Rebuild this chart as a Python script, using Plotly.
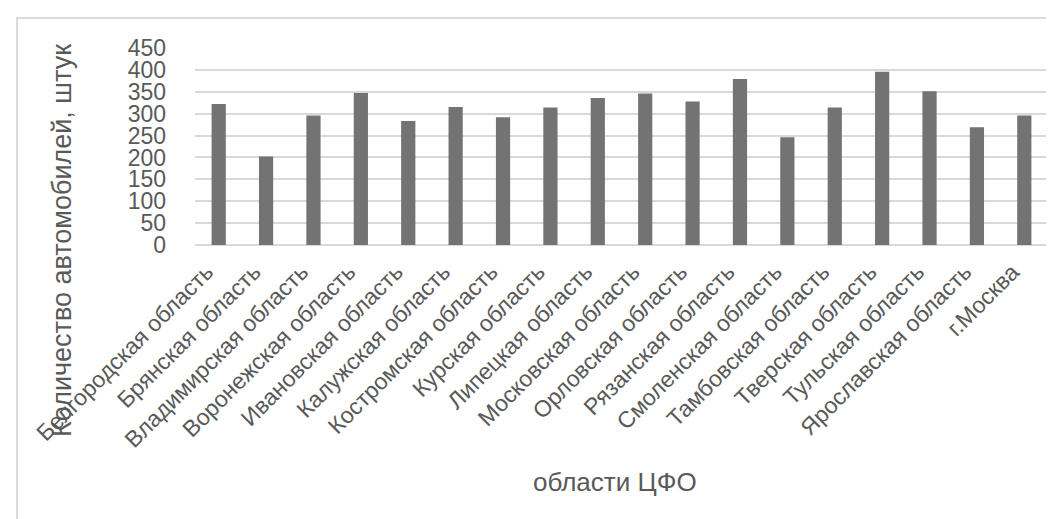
import plotly.graph_objects as go

regions = [
    "Белгородская область", "Брянская область", "Владимирская область",
    "Воронежская область", "Ивановская область", "Калужская область",
    "Костромская область", "Курская область", "Липецкая область",
    "Московская область", "Орловская область", "Рязанская область",
    "Смоленская область", "Тамбовская область", "Тверская область",
    "Тульская область", "Ярославская область", "г.Москва",
]
cars = [322, 202, 296, 347, 283, 315, 292, 314, 336, 346, 328, 379,
        246, 314, 396, 351, 269, 296]
y_ticks = [0, 50, 100, 150, 200, 250, 300, 350, 400, 450]

W, H = 1054, 519
L, R, T, B = 187, 14, 40, 282
pw, ph = W - L - R, H - T - B

def px(x):
    return (x - L) / pw

def py(y):
    return (H - B - y) / ph

FONT = "Liberation Sans, Arial, sans-serif"
TXT = "#595959"

fig = go.Figure(go.Bar(
    x=regions, y=cars,
    marker=dict(color="#737373", line=dict(width=0)),
))

fig.update_layout(
    width=W, height=H,
    margin=dict(l=L, r=R, t=T, b=B),
    paper_bgcolor="white", plot_bgcolor="white",
    bargap=0.70,
    showlegend=False,
    font=dict(family=FONT, color=TXT),
    xaxis=dict(
        tickangle=-45, tickfont=dict(size=23, color=TXT, family=FONT),
        showgrid=False, showline=False, ticks="", ticklabelstandoff=8,
        ticklabelshift=-12,
    ),
    yaxis=dict(
        range=[0, 450], tickvals=y_ticks,
        tickfont=dict(size=23, color=TXT, family=FONT),
        showgrid=True, gridcolor="#d9d9d9", gridwidth=1.5,
        zeroline=True, zerolinecolor="#d9d9d9", zerolinewidth=1.5,
        showline=False, ticks="", ticklabelstandoff=28,
    ),
    annotations=[
        dict(text="Количество автомобилей, штук", xref="paper", yref="paper",
             x=px(54), y=py(233), textangle=-90, showarrow=False,
             xanchor="center", yanchor="middle",
             font=dict(size=27, color=TXT, family=FONT)),
        dict(text="области ЦФО", xref="paper", yref="paper",
             x=px(607), y=py(474), showarrow=False,
             xanchor="center", yanchor="middle",
             font=dict(size=26, color=TXT, family=FONT)),
    ],
    shapes=[
        dict(type="rect", xref="paper", yref="paper",
             x0=px(9), x1=px(1080), y0=py(560), y1=py(10),
             line=dict(color="#d0d0d0", width=1.5), fillcolor="rgba(0,0,0,0)",
             layer="below"),
    ],
)

fig.write_html("out.html")
